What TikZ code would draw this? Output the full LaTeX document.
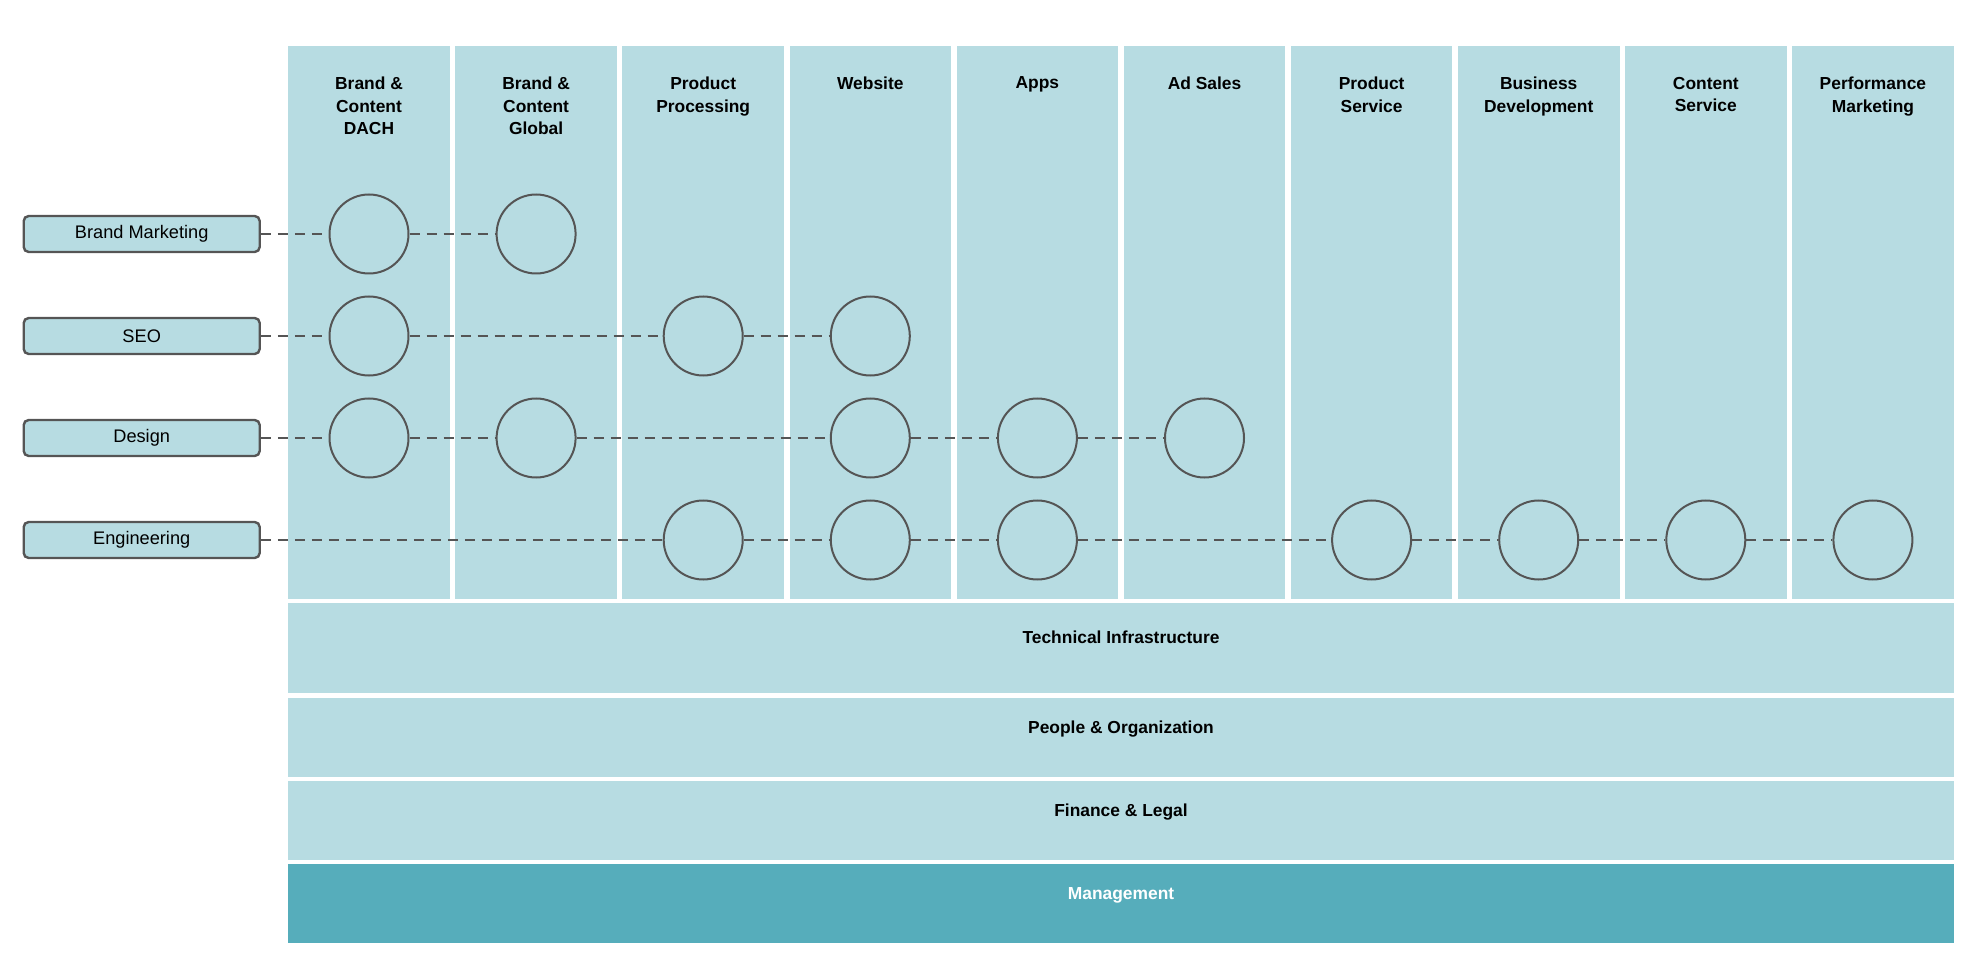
\documentclass[tikz,border=0pt]{standalone}
\usepackage{fontspec}
\setmainfont{Liberation Sans}
\usepackage{xcolor}
\usetikzlibrary{positioning}
\definecolor{lightteal}{HTML}{B7DCE2}
\definecolor{darkteal}{HTML}{56ADBB}
\definecolor{linegray}{HTML}{555555}

\begin{document}
\begin{tikzpicture}[x=0.5pt,y=-0.5pt,
  head/.style={font=\bfseries\fontsize{8.7}{11.35}\selectfont,align=center,anchor=north,inner sep=0pt},
  hub/.style={circle,draw=linegray,line width=1pt,fill=lightteal,minimum size=39.5pt,inner sep=0pt},
  skill/.style={draw=linegray,line width=1.2pt,fill=lightteal,rounded corners=2.5pt,minimum width=118pt,minimum height=18pt,inner sep=0pt,font=\fontsize{9.1}{11}\selectfont},
  link/.style={draw=linegray,line width=1pt,dash pattern=on 5pt off 3.5pt},
  bar/.style={font=\bfseries\fontsize{8.7}{11}\selectfont,anchor=base,inner sep=0pt}]
\useasboundingbox (0,0) rectangle (1980,978);
% columns
\foreach \i/\txt in {1/{Brand \&\\Content\\DACH},2/{Brand \&\\Content\\Global},
  3/{Product\\Processing},4/{Website},5/{Apps},6/{Ad Sales},7/{Product\\Service},
  8/{Business\\Development},9/{Content\\Service},10/{Performance\\Marketing}}{
  \fill[lightteal] ({288.2+167.1*(\i-1)},46.5) rectangle ++(161.6,552);
  \node[head] (h\i) at ({369+167.1*(\i-1)},76.5) {\txt};
}
% bottom layers
\fill[lightteal] (288.2,602.5) rectangle (1953.8,692.5);
\node[bar] (tech) at (1121,643.5) {Technical Infrastructure};
\fill[lightteal] (288.2,697.8) rectangle (1953.8,776.7);
\node[bar] (people) at (1121,733.2) {People \& Organization};
\fill[lightteal] (288.2,781) rectangle (1953.8,859.8);
\node[bar] (finance) at (1121,816.4) {Finance \& Legal};
\fill[darkteal] (288.2,863.7) rectangle (1953.8,942.7);
\node[bar,white] (mgmt) at (1121,899.2) {Management};
% competences
\foreach \sk/\y/\name/\cols in {bm/234/Brand Marketing/{1,2},
  seo/336/SEO/{1,3,4},
  ds/438/Design/{1,2,4,5,6},
  en/540/Engineering/{3,4,5,7,8,9,10}}{
  \node[skill] (\sk) at (141.7,\y) {\name};
  \foreach \c [remember=\c as \p (initially {})] in \cols {
    \node[hub] (\sk\c) at ({369+167.1*(\c-1)},\y) {};
    \draw[link] (\sk\p) -- (\sk\c);
  }
}
\end{tikzpicture}
\end{document}
